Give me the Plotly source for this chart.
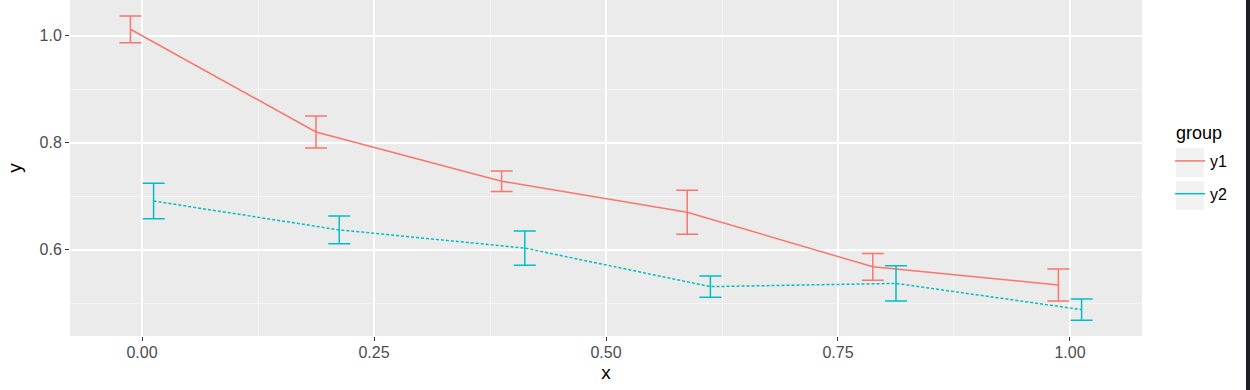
import plotly.graph_objects as go

# data
x_vals = [0.0, 0.2, 0.4, 0.6, 0.8, 1.0]
dodge = 0.0125
y1 = [1.012, 0.820, 0.728, 0.670, 0.568, 0.534]
y1_err = [0.025, 0.030, 0.019, 0.041, 0.025, 0.030]
y2 = [0.691, 0.637, 0.603, 0.531, 0.537, 0.488]
y2_err = [0.033, 0.026, 0.032, 0.020, 0.033, 0.020]
groups = ["y1", "y2"]
colors = ["#F8766D", "#00BFC4"]

x_ticks = [0.0, 0.25, 0.5, 0.75, 1.0]
x_ticktext = ["0.00", "0.25", "0.50", "0.75", "1.00"]
x_minor = [-0.125, 0.125, 0.375, 0.625, 0.875, 1.125]
y_ticks = [0.6, 0.8, 1.0]
y_ticktext = ["0.6", "0.8", "1.0"]
y_minor = [0.5, 0.7, 0.9]
legend_title = "group"

fig = go.Figure()
series = [(y1, y1_err, -dodge, "solid"), (y2, y2_err, dodge, "3px,2px")]
for (ys, errs, dx, dash), name, col in zip(series, groups, colors):
    fig.add_trace(go.Scatter(
        x=[v + dx for v in x_vals], y=ys, name=name, mode="lines", legendgroup=name,
        showlegend=False,
        line=dict(color=col, width=1.5, dash=dash),
        error_y=dict(type="data", array=errs, visible=True, color=col,
                     thickness=1.5, width=11),
    ))
    # legend entry (ggplot key shows a solid line)
    fig.add_trace(go.Scatter(x=[None], y=[None], name=name, mode="lines",
                             legendgroup=name, line=dict(color=col, width=1.5)))

PW, PH = 1072, 336
def px(x):
    return (x - 70) / PW
def py(y):
    return 1 - y / PH

# legend key backgrounds
for top in (148, 181):
    fig.add_shape(type="rect", xref="paper", yref="paper",
                  x0=px(1176), x1=px(1204), y0=py(top + 29), y1=py(top),
                  fillcolor="#F2F2F2", line_width=0, layer="below")

fig.add_annotation(text=legend_title, xref="paper", yref="paper",
                   x=px(1174), y=py(133), xanchor="left", yanchor="middle",
                   showarrow=False, font=dict(size=18, color="black"))

fig.add_shape(type="rect", xref="paper", yref="paper",
              x0=px(1246), x1=px(1251), y0=py(391), y1=py(-1),
              fillcolor="#1c1f24", line_width=0, layer="above")

font = "Liberation Sans, Arial, Helvetica, sans-serif"
fig.update_layout(
    width=1250, height=390,
    margin=dict(l=70, r=108, t=0, b=54),
    paper_bgcolor="white", plot_bgcolor="#EBEBEB",
    font=dict(family=font, color="#4D4D4D", size=16),
    showlegend=True,
    legend=dict(x=px(1170), xanchor="left", y=py(144), yanchor="top",
                bgcolor="rgba(0,0,0,0)",
                font=dict(size=16, color="black"), tracegroupgap=9,
                itemwidth=30),
    xaxis=dict(range=[-0.0776, 1.0776], tickvals=x_ticks, ticktext=x_ticktext,
               showgrid=True, gridcolor="white", gridwidth=1.5, zeroline=False,
               ticks="outside", ticklen=4, tickcolor="#333333", tickwidth=1.2,
               tickfont=dict(size=16, color="#4D4D4D"), ticklabelstandoff=-2,
               title=dict(text="x", font=dict(size=19, color="black"), standoff=5),
               minor=dict(tickvals=x_minor, showgrid=True, gridcolor="#F5F5F5", gridwidth=0.8)),
    yaxis=dict(range=[0.4387, 1.0667], tickvals=y_ticks, ticktext=y_ticktext,
               showgrid=True, gridcolor="white", gridwidth=1.5, zeroline=False,
               ticks="outside", ticklen=4, tickcolor="#333333", tickwidth=1.2,
               tickfont=dict(size=16, color="#4D4D4D"),
               title=dict(text="y", font=dict(size=19, color="black"), standoff=12),
               minor=dict(tickvals=y_minor, showgrid=True, gridcolor="#F5F5F5", gridwidth=0.8)),
)

fig.write_html("out.html", config={"displayModeBar": False},
               post_script="document.body.style.margin='0';")
